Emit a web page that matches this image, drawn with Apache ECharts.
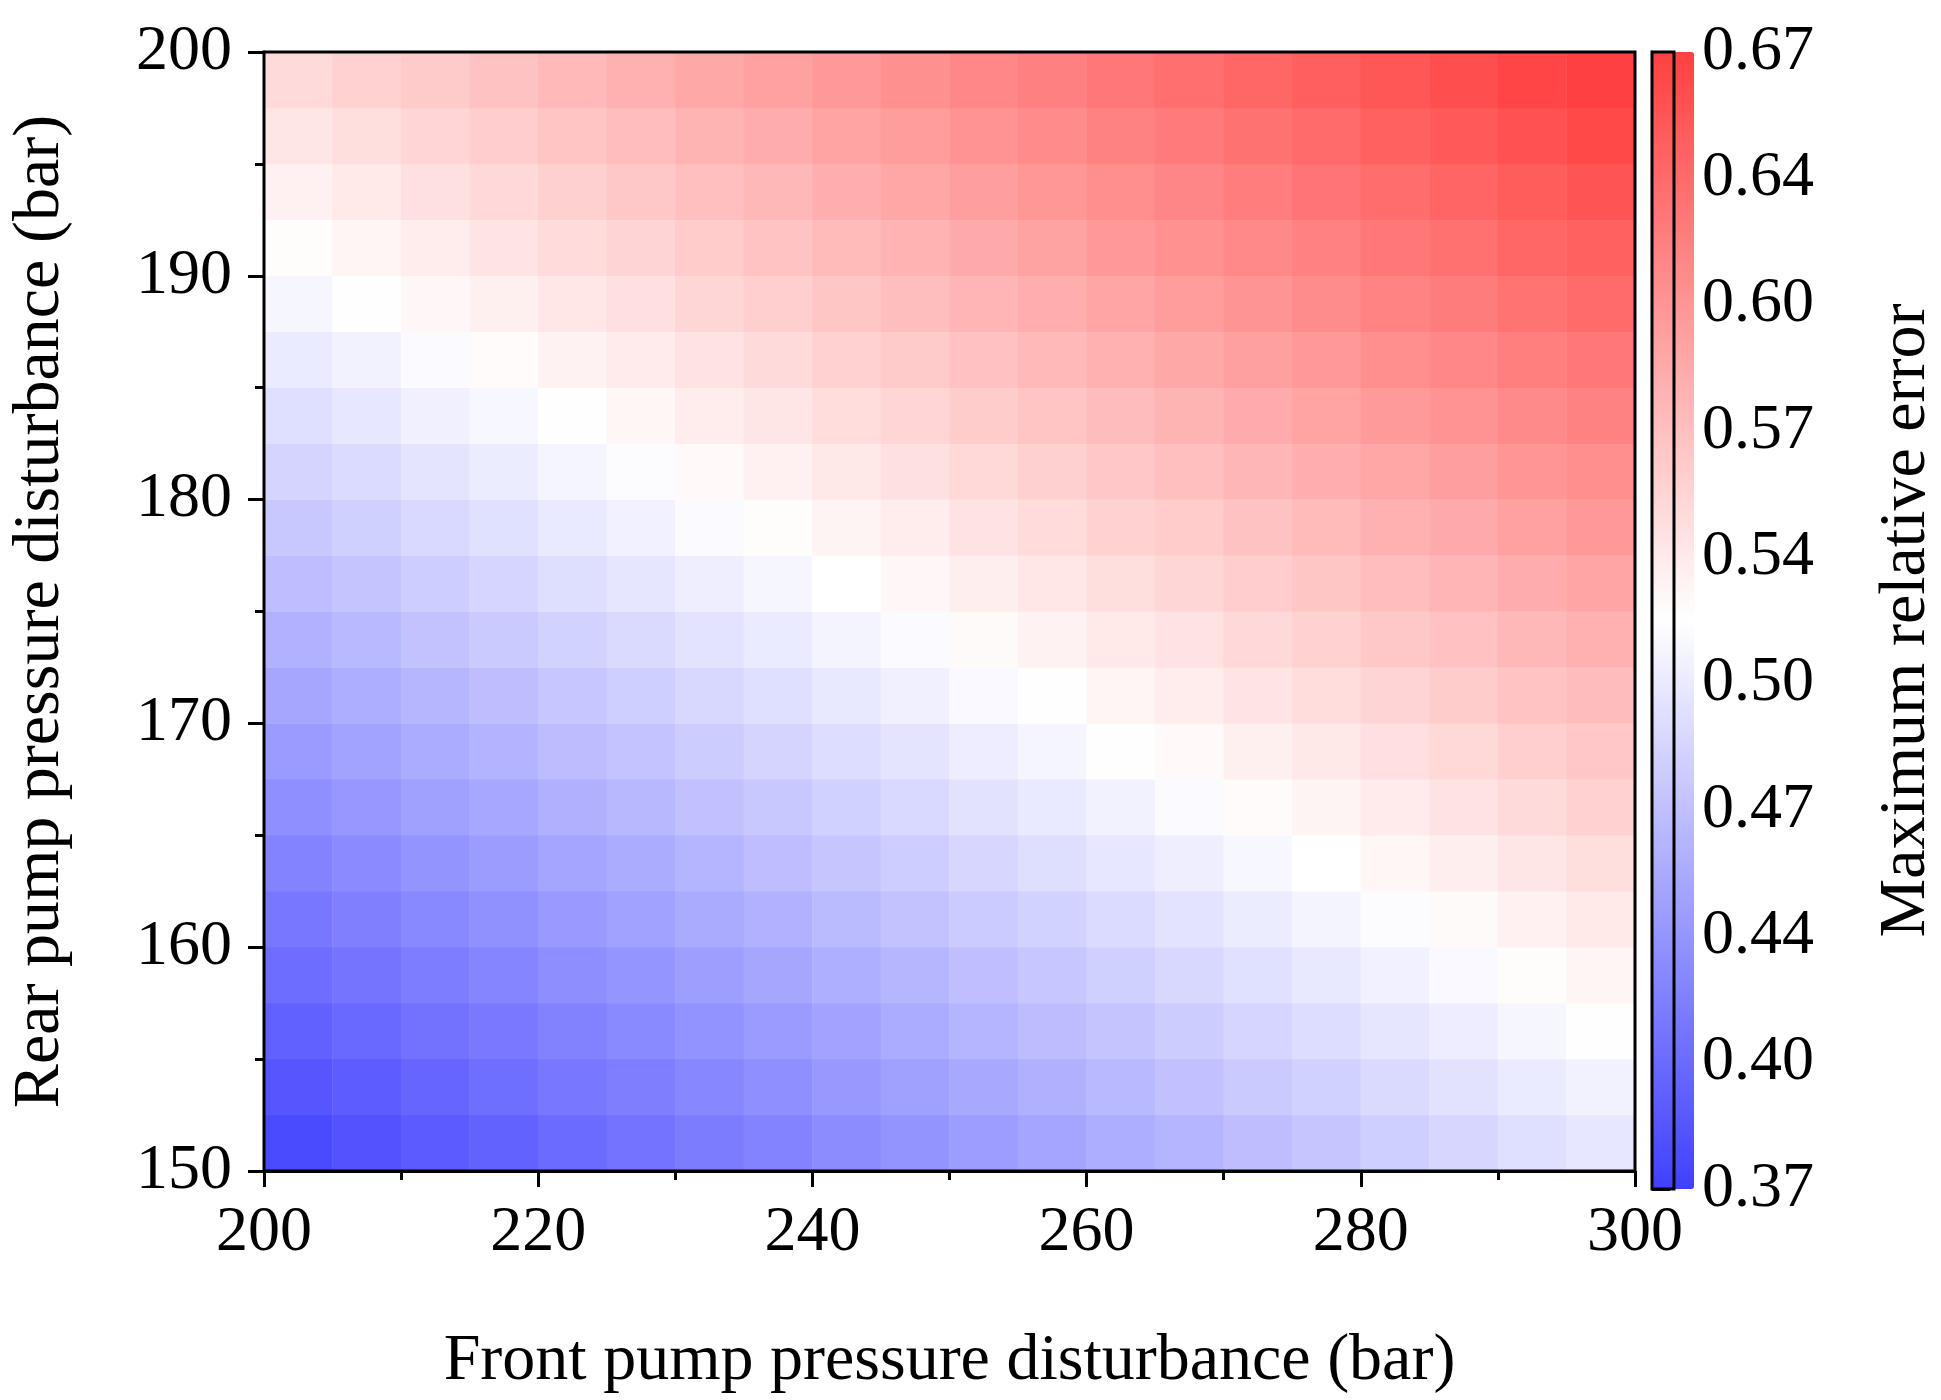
<!DOCTYPE html>
<html><head><meta charset="utf-8">
<script src="https://cdn.jsdelivr.net/npm/echarts@6/dist/echarts.min.js"></script>
<style>html,body{margin:0;padding:0;background:#fff}#c{width:1941px;height:1400px}</style>
</head><body><div id="c"></div>
<script>
// cell centers
const xCats = [202.5,207.5,212.5,217.5,222.5,227.5,232.5,237.5,242.5,247.5,252.5,257.5,262.5,267.5,272.5,277.5,282.5,287.5,292.5,297.5];
const yCats = [151.25,153.75,156.25,158.75,161.25,163.75,166.25,168.75,171.25,173.75,176.25,178.75,181.25,183.75,186.25,188.75,191.25,193.75,196.25,198.75];
// rows from bottom (y=151.25) to top (y=198.75)
const values = [
 [0.378,0.384,0.391,0.397,0.404,0.410,0.417,0.423,0.430,0.436,0.443,0.449,0.456,0.462,0.469,0.475,0.482,0.488,0.495,0.501],
 [0.387,0.393,0.400,0.406,0.413,0.419,0.426,0.432,0.439,0.445,0.452,0.458,0.465,0.471,0.478,0.484,0.491,0.497,0.504,0.510],
 [0.396,0.402,0.409,0.415,0.422,0.428,0.435,0.441,0.448,0.454,0.461,0.467,0.474,0.480,0.487,0.493,0.500,0.506,0.513,0.519],
 [0.405,0.411,0.418,0.424,0.431,0.437,0.444,0.450,0.457,0.463,0.470,0.476,0.483,0.489,0.496,0.502,0.509,0.515,0.522,0.528],
 [0.414,0.420,0.427,0.433,0.440,0.446,0.453,0.459,0.466,0.472,0.479,0.485,0.492,0.498,0.505,0.511,0.518,0.524,0.531,0.537],
 [0.423,0.429,0.436,0.442,0.449,0.455,0.462,0.468,0.475,0.481,0.488,0.494,0.501,0.507,0.514,0.520,0.527,0.533,0.540,0.546],
 [0.432,0.438,0.445,0.451,0.458,0.464,0.471,0.477,0.484,0.490,0.497,0.503,0.510,0.516,0.523,0.529,0.536,0.542,0.549,0.555],
 [0.441,0.447,0.454,0.460,0.467,0.473,0.480,0.486,0.493,0.499,0.506,0.512,0.519,0.525,0.532,0.538,0.545,0.551,0.558,0.564],
 [0.450,0.456,0.463,0.469,0.476,0.482,0.489,0.495,0.502,0.508,0.515,0.521,0.528,0.534,0.541,0.547,0.554,0.560,0.567,0.573],
 [0.459,0.465,0.472,0.478,0.485,0.491,0.498,0.504,0.511,0.517,0.524,0.530,0.537,0.543,0.550,0.556,0.563,0.569,0.576,0.582],
 [0.468,0.474,0.481,0.487,0.494,0.500,0.507,0.513,0.520,0.526,0.533,0.539,0.546,0.552,0.559,0.565,0.572,0.578,0.585,0.591],
 [0.477,0.483,0.490,0.496,0.503,0.509,0.516,0.522,0.529,0.535,0.542,0.548,0.555,0.561,0.568,0.574,0.581,0.587,0.594,0.600],
 [0.486,0.492,0.499,0.505,0.512,0.518,0.525,0.531,0.538,0.544,0.551,0.557,0.564,0.570,0.577,0.583,0.590,0.596,0.603,0.609],
 [0.495,0.501,0.508,0.514,0.521,0.527,0.534,0.540,0.547,0.553,0.560,0.566,0.573,0.579,0.586,0.592,0.599,0.605,0.612,0.618],
 [0.504,0.510,0.517,0.523,0.530,0.536,0.543,0.549,0.556,0.562,0.569,0.575,0.582,0.588,0.595,0.601,0.608,0.614,0.621,0.627],
 [0.513,0.519,0.526,0.532,0.539,0.545,0.552,0.558,0.565,0.571,0.578,0.584,0.591,0.597,0.604,0.610,0.617,0.623,0.630,0.636],
 [0.522,0.528,0.535,0.541,0.548,0.554,0.561,0.567,0.574,0.580,0.587,0.593,0.600,0.606,0.613,0.619,0.626,0.632,0.639,0.645],
 [0.531,0.537,0.544,0.550,0.557,0.563,0.570,0.576,0.583,0.589,0.596,0.602,0.609,0.615,0.622,0.628,0.635,0.641,0.648,0.654],
 [0.540,0.546,0.553,0.559,0.566,0.572,0.579,0.585,0.592,0.598,0.605,0.611,0.618,0.624,0.631,0.637,0.644,0.650,0.657,0.663],
 [0.549,0.555,0.562,0.568,0.575,0.581,0.588,0.594,0.601,0.607,0.614,0.620,0.627,0.633,0.640,0.646,0.653,0.659,0.666,0.670]
];
const cbarLabels = ['0.37','0.40','0.44','0.47','0.50','0.54','0.57','0.60','0.64','0.67'];
const cMin = 0.37, cMax = 0.67;

const data = [];
values.forEach((row, j) => row.forEach((v, i) => data.push([i, j, v])));
const F = 'Liberation Serif';
const lab = {color:'#000', fontFamily:F, fontSize:64};
const ttl = {color:'#000', fontFamily:F, fontSize:66};
const chart = echarts.init(document.getElementById('c'));
chart.setOption({
  backgroundColor:'#fff',
  grid:[
    {left:259, top:52, width:1376, height:1137, show:true, borderColor:'#000', borderWidth:3, backgroundColor:'transparent', z:5},
    {left:1652, top:52, width:42, height:1137, show:true, borderColor:'#000', borderWidth:3, backgroundColor:'transparent', z:5}
  ],
  visualMap:{type:'continuous', min:cMin, max:cMax, seriesIndex:0, calculable:false, show:true,
    left:1652, top:52, itemWidth:42, itemHeight:1137, padding:0, text:['',''], showLabel:false,
    inRange:{color:['#4040ff','#ffffff','#ff4040']}},
  xAxis:[
    {type:'category', data:xCats, gridIndex:0, show:false},
    {type:'value', gridIndex:0, min:200, max:300, interval:20, position:'bottom',
     axisLine:{show:true, lineStyle:{color:'#000', width:3}},
     axisTick:{show:true, inside:false, length:16, lineStyle:{color:'#000', width:3}},
     minorTick:{show:true, splitNumber:2, length:9, lineStyle:{color:'#000', width:3}},
     splitLine:{show:false}, axisLabel:Object.assign({margin:30}, lab),
     name:'Front pump pressure disturbance (bar)', nameLocation:'middle', nameGap:158,
     nameTextStyle:ttl},
    {type:'value', gridIndex:1, show:false, min:0, max:1}
  ],
  yAxis:[
    {type:'category', data:yCats, gridIndex:0, show:false},
    {type:'value', gridIndex:0, min:150, max:200, interval:10, position:'left',
     axisLine:{show:true, lineStyle:{color:'#000', width:3}},
     axisTick:{show:true, inside:false, length:16, lineStyle:{color:'#000', width:3}},
     minorTick:{show:true, splitNumber:2, length:9, lineStyle:{color:'#000', width:3}},
     splitLine:{show:false}, axisLabel:Object.assign({margin:32}, lab),
     name:'Rear pump pressure disturbance (bar)', nameLocation:'middle', nameGap:190,
     nameTextStyle:ttl},
    {type:'value', gridIndex:1, min:0, max:9, interval:1, position:'right',
     axisLine:{show:true, lineStyle:{color:'#000', width:3}},
     axisTick:{show:true, inside:false, length:18, lineStyle:{color:'#000', width:3}},
     splitLine:{show:false},
     axisLabel:Object.assign({margin:28, formatter:(v)=>cbarLabels[Math.round(v)]}, lab),
     name:'Maximum relative error', nameLocation:'middle', nameGap:200, nameRotate:90,
     nameTextStyle:ttl}
  ],
  series:[
    {type:'heatmap', xAxisIndex:0, yAxisIndex:0, data:data, itemStyle:{borderWidth:0}}
  ]
});
</script></body></html>
